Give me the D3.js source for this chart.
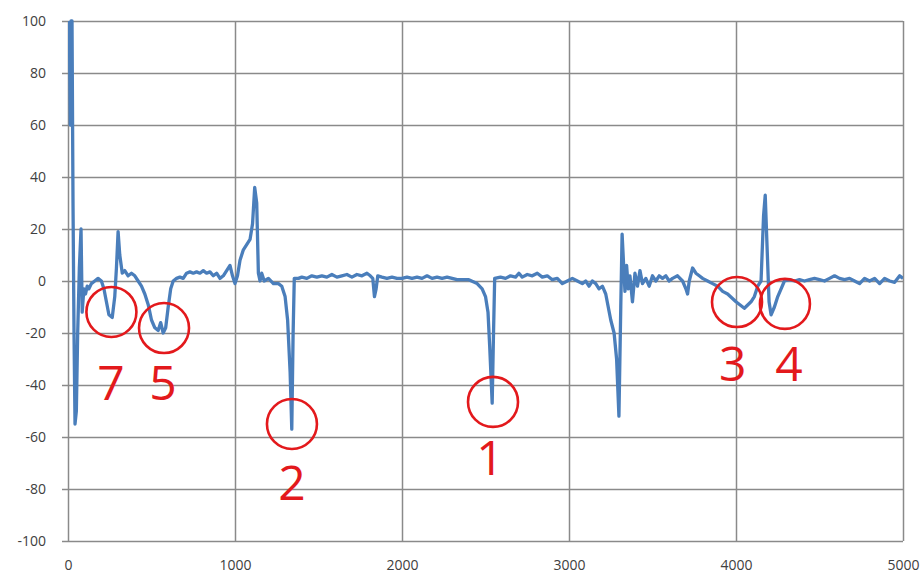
<!DOCTYPE html>
<html>
<head>
<meta charset="utf-8">
<script src="https://cdn.jsdelivr.net/npm/d3@7"></script>
<style>
  body { margin: 0; background: #fff; }
  svg { display: block; }
</style>
</head>
<body>
<div id="chart"></div>
<script>
// signal trace
const xs = [8, 14, 18, 24, 30, 36, 42, 50, 58, 68, 78, 85, 95, 105, 115, 125, 140, 160, 180, 200,
  215, 230, 245, 265, 280, 290, 300, 310, 325, 340, 360, 380, 400, 420, 440, 460, 480, 500, 520, 540,
  555, 570, 585, 600, 615, 630, 650, 670, 690, 710, 730, 750, 770, 790, 810, 830, 850, 870, 890, 910,
  930, 950, 970, 985, 1000, 1015, 1030, 1050, 1070, 1090, 1105, 1118, 1130, 1140, 1150, 1160, 1175, 1200, 1230, 1260,
  1280, 1300, 1315, 1330, 1340, 1348, 1355, 1380, 1400, 1430, 1460, 1490, 1520, 1550, 1580, 1610, 1640, 1670, 1700, 1730,
  1760, 1790, 1810, 1825, 1835, 1845, 1855, 1880, 1910, 1940, 1970, 2000, 2030, 2060, 2090, 2120, 2150, 2180, 2210, 2240,
  2270, 2300, 2330, 2360, 2400, 2450, 2480, 2500, 2515, 2525, 2540, 2548, 2555, 2590, 2620, 2650, 2680, 2700, 2720, 2750,
  2780, 2810, 2840, 2870, 2900, 2930, 2960, 2990, 3020, 3050, 3080, 3100, 3120, 3140, 3160, 3180, 3200, 3220, 3250, 3270,
  3285, 3299, 3310, 3318, 3328, 3335, 3345, 3355, 3365, 3380, 3395, 3410, 3425, 3440, 3460, 3480, 3500, 3520, 3540, 3560,
  3580, 3600, 3620, 3650, 3680, 3700, 3710, 3720, 3740, 3760, 3780, 3800, 3830, 3860, 3890, 3920, 3950, 4000, 4050, 4090,
  4110, 4130, 4150, 4165, 4175, 4185, 4198, 4210, 4230, 4250, 4270, 4290, 4320, 4350, 4380, 4410, 4440, 4470, 4500, 4530,
  4560, 4590, 4620, 4650, 4680, 4710, 4740, 4770, 4800, 4830, 4860, 4890, 4920, 4950, 4980, 5000];
const ys = [100, 60, 100, 100, 30, -20, -55, -50, -20, 5, 20, -12, -3, -5, -2, -3, -1, 0, 1, 0,
  -3, -8, -13, -14, -6, 5, 19, 10, 3, 4, 2, 3, 2, 0, -2, -5, -9, -15, -18, -19,
  -16, -20, -18, -10, -3, 0, 1, 1.5, 1, 3, 3.5, 3, 3.5, 3, 4, 3, 3.5, 2, 3, 1,
  2, 4, 6, 2, -1, 2, 8, 12, 14, 16, 22, 36, 30, 3, 0, 3, 0, 1, -1, -1,
  -2, -6, -15, -35, -57, -20, 1, 1, 1.5, 1, 2, 1.5, 2, 1.5, 2.5, 1.5, 2, 2.5, 1.5, 2.5,
  2, 3, 2, 1, -6, -3, 2, 1.5, 1, 1.5, 1, 1, 1.5, 1, 1.5, 1, 2, 1, 1.5, 1,
  1.5, 1, 0.5, 0.5, 0.5, -1, -3, -6, -12, -25, -47, -20, 1, 1.5, 1, 2, 1.5, 3, 1.5, 2.5,
  2, 3, 1.5, 2, 0.5, 1, -1, 0, 1, 0, -1, 0, -2, 0, -1, -3, -2, -5, -15, -20,
  -30, -52, -10, 18, 5, -4, 6, -3, 2, -8, 3, -2, 4, -1, 1, -2, 2, 0, 2, 1,
  2, 0, 1, 2, 0, -3, -5, 0, 5, 3, 2, 1, 0, -1, -2, -4, -5, -8, -10.5, -8,
  -6, -2, 0, 25, 33, 15, -8, -13, -10, -6, -3, 0, 0.5, 0, 0.5, 0, 0.5, 1, 0.5, 0,
  1, 2, 1, 0.5, 1, 0, -1, 1, 0, 1, -1, 1, 0, -0.5, 2, 1];

const xTicks = [0, 1000, 2000, 3000, 4000, 5000];
const yTicks = [-100, -80, -60, -40, -20, 0, 20, 40, 60, 80, 100];

// red circled markers
const markLabels = ["7", "5", "2", "1", "3", "4"];
const markX = [260, 575, 1341, 2545, 4006, 4293];
const markY = [-11.9, -18.1, -55, -46.5, -8.1, -8.8];
const markTextX = [258, 569, 1341, 2527, 3980, 4317];
const markTextY = [-45.8, -45.8, -84.2, -74.6, -38.5, -38.5];

const W = 923, H = 574;
const margin = { top: 21, right: 20, bottom: 33, left: 68 };
const width = W - margin.left - margin.right;
const height = H - margin.top - margin.bottom;

const svg = d3.select("#chart").append("svg")
  .attr("width", W).attr("height", H);
const g = svg.append("g")
  .attr("transform", `translate(${margin.left},${margin.top})`);

const x = d3.scaleLinear().domain([0, 5000]).range([0, width]);
const y = d3.scaleLinear().domain([-100, 100]).range([height, 0]);

const gridColor = "#8a8a8a";

// horizontal grid with short ticks on the left
g.append("g")
  .call(d3.axisLeft(y).tickValues(yTicks).tickSize(-width - 6).tickPadding(22).tickFormat(d => String(d)))
  .call(a => a.select(".domain").remove())
  .call(a => a.selectAll(".tick line").attr("x1", -6).attr("x2", width)
    .attr("stroke", gridColor).attr("stroke-width", 1.5))
  .call(a => a.selectAll(".tick text")
    .attr("font-family", "'Open Sans', sans-serif").attr("font-size", 14).attr("fill", "#404040"));

// vertical grid
g.append("g")
  .attr("transform", `translate(0,${height})`)
  .call(d3.axisBottom(x).tickValues(xTicks).tickSize(-height).tickPadding(19).tickFormat(d => String(d)))
  .call(a => a.select(".domain").remove())
  .call(a => a.selectAll(".tick line").attr("stroke", gridColor).attr("stroke-width", 1.5))
  .call(a => a.selectAll(".tick text")
    .attr("font-family", "'Open Sans', sans-serif").attr("font-size", 14).attr("fill", "#404040"));

const pts = xs.map((v, i) => [v, ys[i]]);

svg.append("clipPath").attr("id", "plot")
  .append("rect").attr("x", 0).attr("y", -2).attr("width", width).attr("height", height + 4);

g.append("path")
  .datum(pts)
  .attr("clip-path", "url(#plot)")
  .attr("fill", "none")
  .attr("stroke", "#4a7ebb")
  .attr("stroke-width", 3.3)
  .attr("stroke-linejoin", "round")
  .attr("d", d3.line().x(d => x(d[0])).y(d => y(d[1])));

const red = "#e3191c";
g.selectAll(".mark")
  .data(markLabels)
  .join("circle")
  .attr("class", "mark")
  .attr("cx", (d, i) => x(markX[i]))
  .attr("cy", (d, i) => y(markY[i]))
  .attr("r", 25)
  .attr("fill", "none")
  .attr("stroke", red)
  .attr("stroke-width", 2.6);

g.selectAll(".mark-label")
  .data(markLabels)
  .join("text")
  .attr("class", "mark-label")
  .attr("x", (d, i) => x(markTextX[i]))
  .attr("y", (d, i) => y(markTextY[i]))
  .attr("text-anchor", "middle")
  .attr("font-family", "'Open Sans', sans-serif")
  .attr("font-size", 48)
  .attr("fill", red)
  .text(d => d);
</script>
</body>
</html>
